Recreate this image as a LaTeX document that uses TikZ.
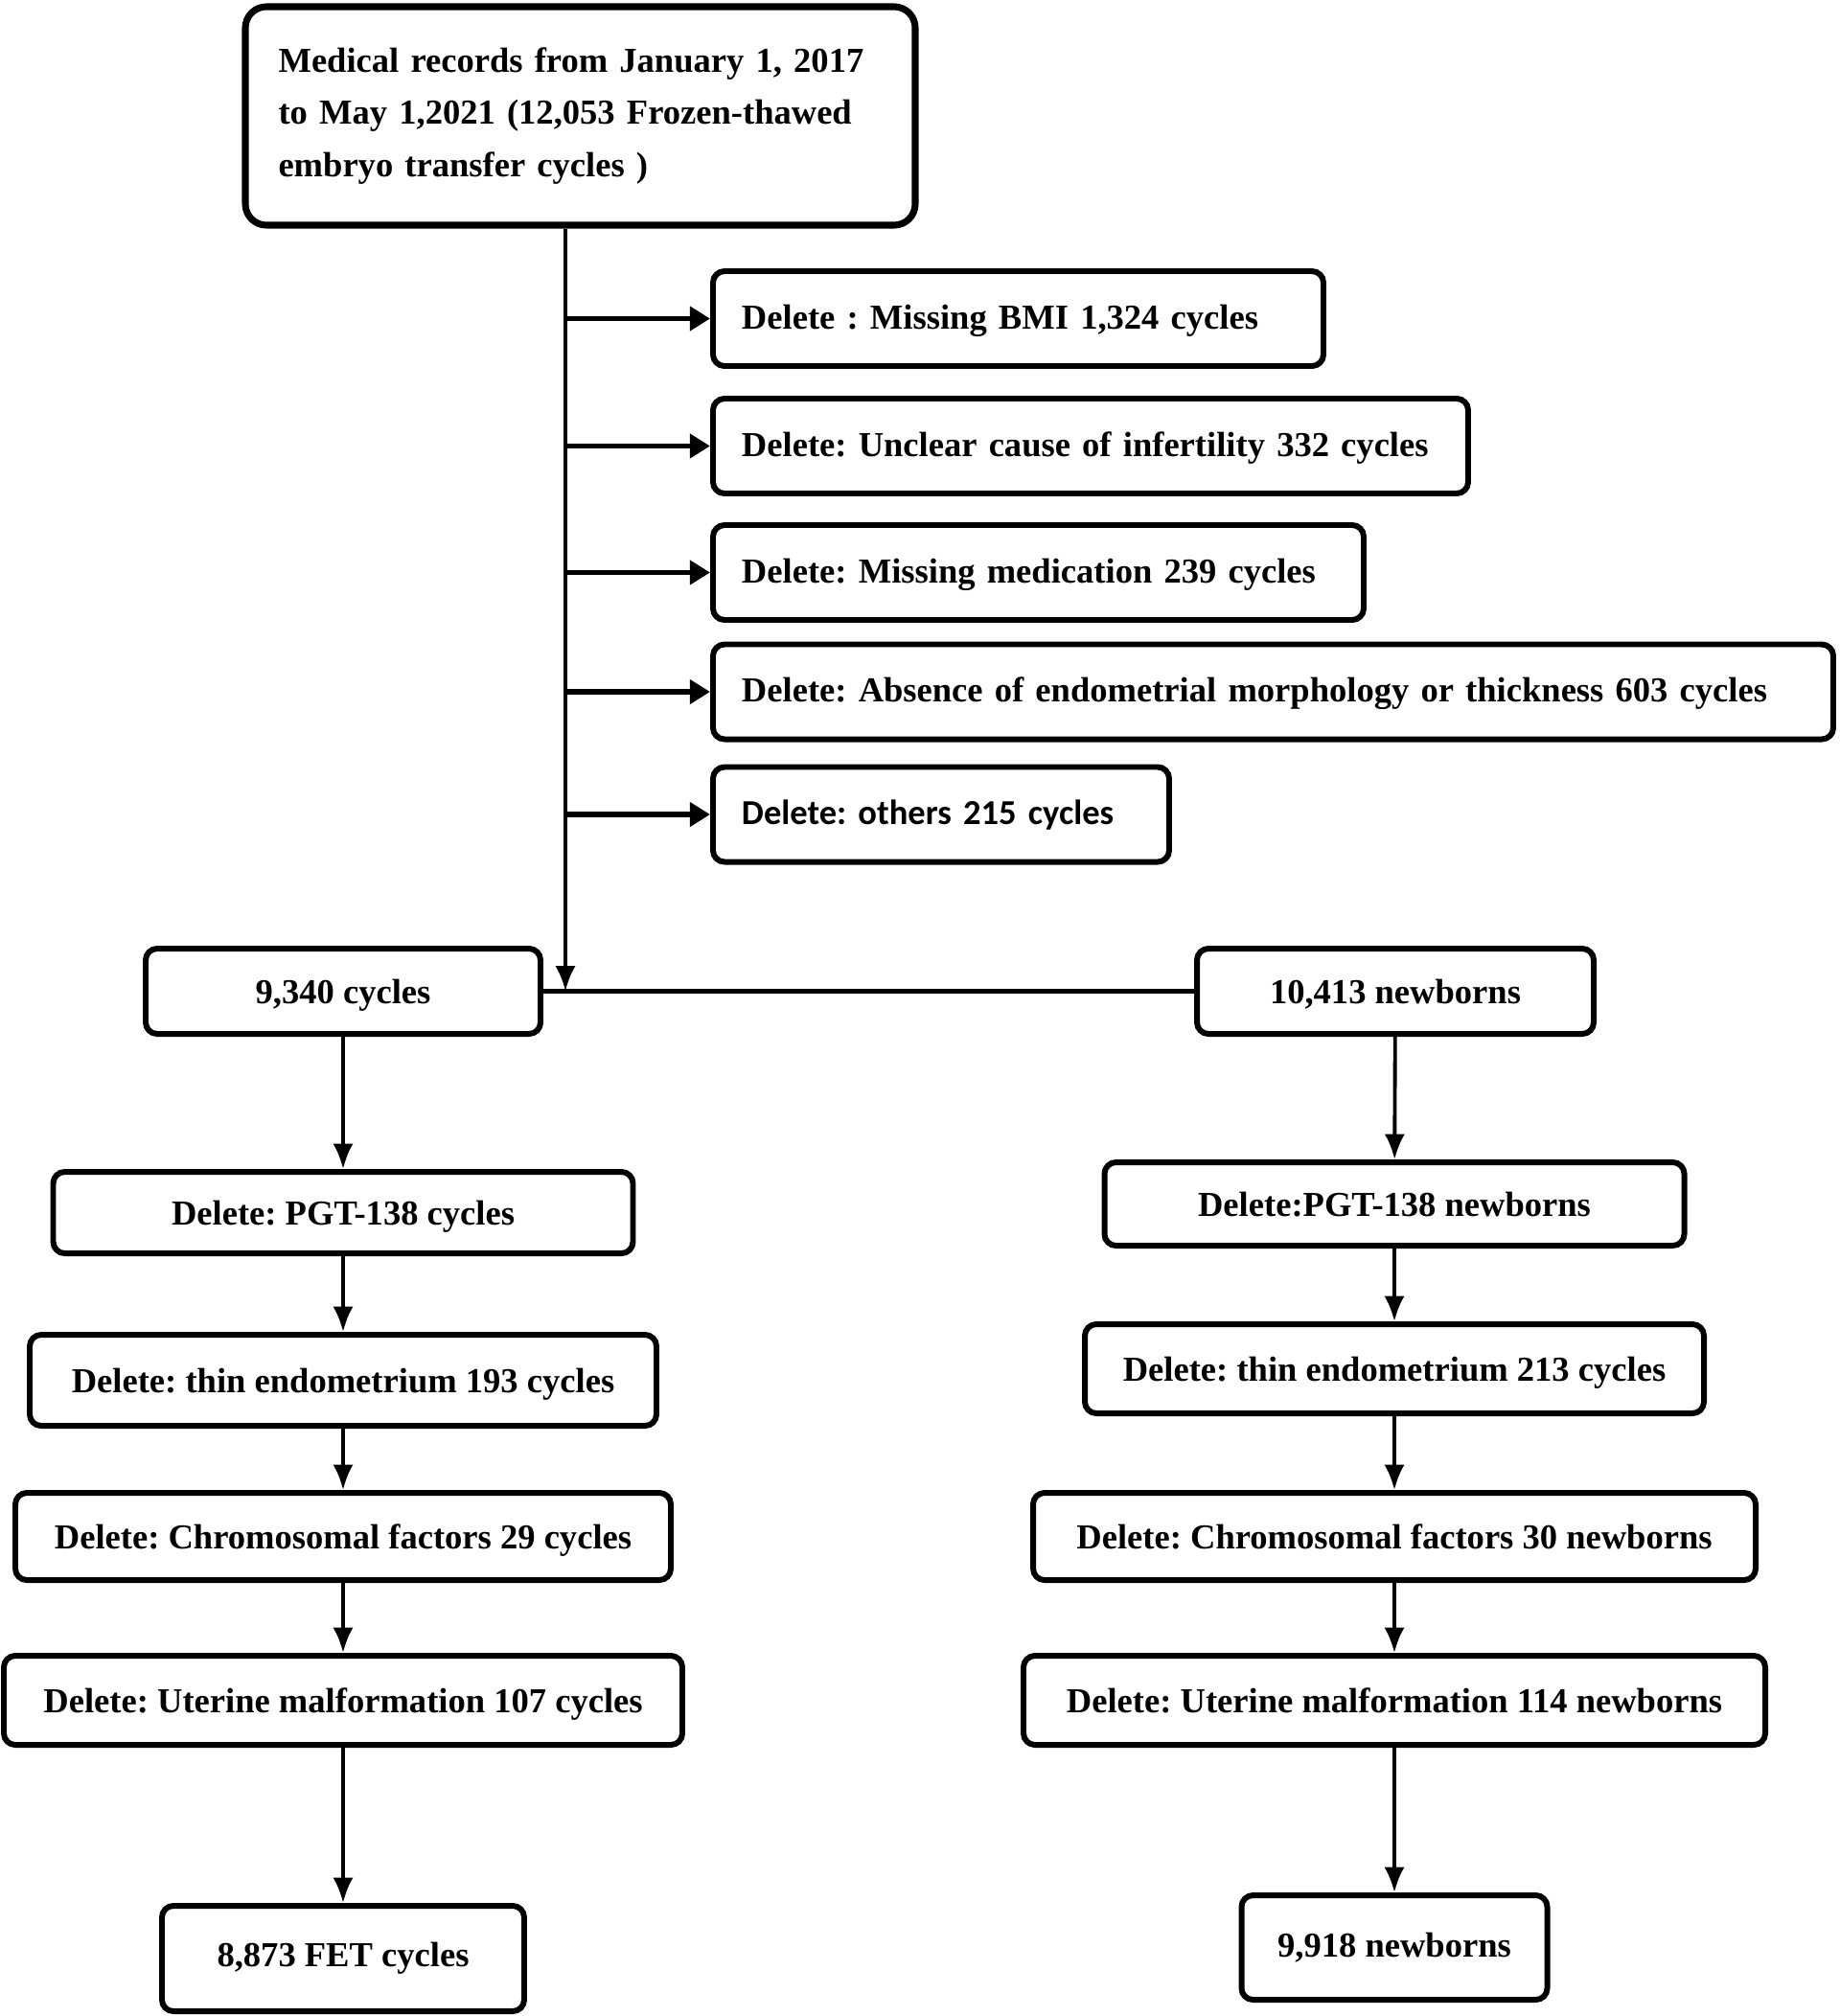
\documentclass[tikz,border=0pt]{standalone}
\usepackage{fontspec}
\setmainfont{Liberation Serif}
\newfontfamily\calibrifont{Carlito}
\usetikzlibrary{arrows.meta}
\frenchspacing
\begin{document}
\begin{tikzpicture}[every path/.style={>={Latex[length=7.5pt,width=6pt]}},
  every node/.style={draw,rectangle,line width=1.7pt,rounded corners=0.12cm,inner sep=0pt,font=\fontsize{10.4}{15.6}\selectfont\bfseries},
  flow/.style={->,line width=1.1pt},
  side/.style={->,line width=1.6pt,>={Triangle[length=6pt,width=7pt]}},
  sidebox/.style={anchor=west,align=left,inner xsep=0.3cm,minimum height=0.99cm,text height=0.8em,text depth=0.2em},
  colbox/.style={text height=0.95em,text depth=0.2em}]
\useasboundingbox (0,0) rectangle (19.19,-21.04);

\node[rounded corners=0.22cm,line width=2pt,minimum width=6.99cm,minimum height=2.28cm,text width=6.3cm,align=left] (records) at (6.055,-1.21) {Medical records from January 1, 2017\\to May 1,2021 (12,053 Frozen-thawed\\embryo transfer cycles )};
\coordinate (trunk) at (5.90,-10.345);

\node[sidebox,text width=5.77cm] (bmi) at (7.41,-3.325) {Delete : Missing BMI 1,324 cycles};
\node[sidebox,text width=7.28cm] (unclear) at (7.41,-4.655) {Delete: Unclear cause of infertility 332 cycles};
\node[sidebox,text width=6.19cm] (medication) at (7.41,-5.975) {Delete: Missing medication 239 cycles};
\node[sidebox,text width=11.09cm] (absence) at (7.41,-7.22) {Delete: Absence of endometrial morphology or thickness 603 cycles};
\node[sidebox,text width=4.16cm] (others) at (7.41,-8.50) {\calibrifont Delete: others 215 cycles};

\node[colbox,minimum width=4.12cm,minimum height=0.89cm] (cycles) at (3.58,-10.345) {9,340 cycles};
\node[colbox,minimum width=4.14cm,minimum height=0.89cm] (newborns) at (14.56,-10.345) {10,413 newborns};

\node[colbox,minimum width=6.05cm,minimum height=0.85cm] (lpgt) at (3.58,-12.655) {Delete: PGT-138 cycles};
\node[colbox,minimum width=6.54cm,minimum height=0.95cm] (lthin) at (3.58,-14.405) {Delete: thin endometrium 193 cycles};
\node[colbox,minimum width=6.84cm,minimum height=0.91cm] (lchrom) at (3.58,-16.035) {Delete: Chromosomal factors 29 cycles};
\node[colbox,minimum width=7.08cm,minimum height=0.93cm] (luter) at (3.58,-17.745) {Delete: Uterine malformation 107 cycles};
\node[minimum width=3.78cm,minimum height=1.10cm] (lfet) at (3.58,-20.44) {8,873 FET cycles};

\node[colbox,minimum width=6.05cm,minimum height=0.87cm] (rpgt) at (14.55,-12.565) {Delete:PGT-138 newborns};
\node[colbox,minimum width=6.46cm,minimum height=0.93cm] (rthin) at (14.55,-14.285) {Delete: thin endometrium 213 cycles};
\node[colbox,minimum width=7.54cm,minimum height=0.91cm] (rchrom) at (14.55,-16.035) {Delete: Chromosomal factors 30 newborns};
\node[colbox,minimum width=7.74cm,minimum height=0.93cm] (ruter) at (14.55,-17.745) {Delete: Uterine malformation 114 newborns};
\node[minimum width=3.19cm,minimum height=1.09cm] (rnb) at (14.55,-20.325) {9,918 newborns};

\draw[flow] (records.south -| trunk) -- (trunk);
\foreach \n in {bmi,unclear,medication,absence,others}
  \draw[side] (trunk |- \n.west) -- (\n.west);
\draw[line width=1.6pt] (cycles) -- (newborns);

\draw[flow] (cycles) edge (lpgt);
\draw[flow] (lpgt) edge (lthin);
\draw[flow] (lthin) edge (lchrom);
\draw[flow] (lchrom) edge (luter);
\draw[flow] (luter) edge (lfet);

\draw[flow] (newborns) edge (rpgt);
\draw[flow] (rpgt) edge (rthin);
\draw[flow] (rthin) edge (rchrom);
\draw[flow] (rchrom) edge (ruter);
\draw[flow] (ruter) edge (rnb);
\end{tikzpicture}
\end{document}
